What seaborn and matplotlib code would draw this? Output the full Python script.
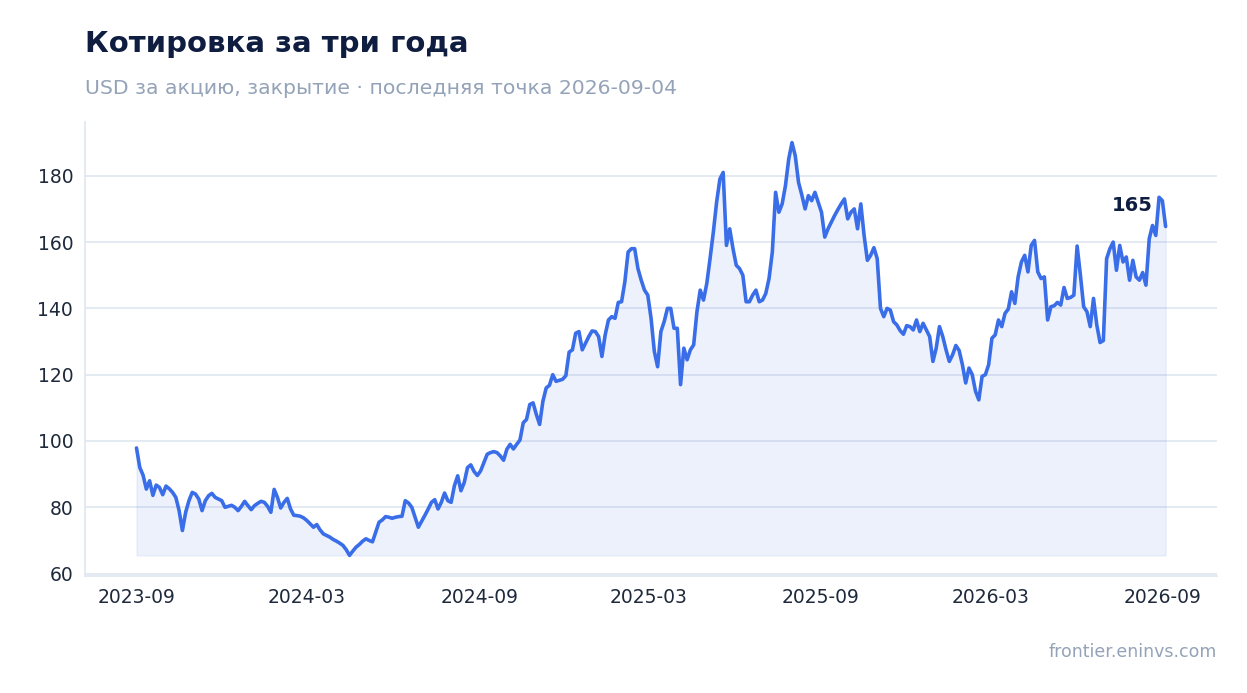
import numpy as np
import pandas as pd
import matplotlib
matplotlib.use("Agg")
import matplotlib.pyplot as plt
import matplotlib.dates as mdates
import seaborn as sns

# closing price, sampled every 3.5 days from 2023-09-01 to 2026-09-04
start_date = "2023-09-01"
step = "84h"
close = [
    97.9, 92.0, 89.7, 85.5, 88.0, 83.6, 86.7, 86.0, 83.8, 86.4,
    85.6, 84.5, 83.0, 79.0, 73.0, 78.5, 82.0, 84.5, 84.0, 82.5,
    79.0, 82.0, 83.5, 84.2, 83.0, 82.5, 82.0, 80.0, 80.3, 80.6,
    80.0, 79.0, 80.3, 81.8, 80.5, 79.3, 80.5, 81.2, 81.8, 81.5,
    80.3, 78.5, 85.4, 83.0, 79.8, 81.5, 82.7, 79.5, 77.6, 77.5,
    77.3, 76.8, 76.0, 75.0, 74.0, 74.8, 73.2, 72.0, 71.5, 71.0,
    70.3, 69.8, 69.2, 68.5, 67.2, 65.5, 66.8, 68.0, 68.8, 69.8,
    70.5, 70.0, 69.6, 72.5, 75.5, 76.2, 77.2, 77.0, 76.7, 77.0,
    77.2, 77.3, 82.0, 81.3, 80.0, 77.0, 74.0, 75.8, 77.6, 79.5,
    81.5, 82.3, 79.5, 81.5, 84.3, 82.0, 81.5, 86.5, 89.5, 85.0,
    87.5, 92.0, 92.8, 90.8, 89.6, 91.0, 93.5, 96.0, 96.5, 96.8,
    96.5, 95.5, 94.2, 97.5, 99.0, 97.6, 99.0, 100.3, 105.5, 106.5,
    111.0, 111.5, 108.0, 105.0, 112.0, 116.0, 116.8, 120.0, 118.0, 118.3,
    118.6, 119.7, 126.8, 127.5, 132.5, 133.0, 127.5, 129.5, 131.5, 133.2,
    133.0, 131.5, 125.5, 132.0, 136.5, 137.5, 137.0, 141.8, 142.0, 148.0,
    157.0, 158.0, 158.0, 152.0, 148.5, 145.5, 144.0, 137.0, 127.0, 122.4,
    133.0, 136.0, 140.0, 140.0, 134.0, 134.0, 117.0, 128.0, 124.5, 127.5,
    129.0, 139.0, 145.5, 142.5, 147.5, 155.0, 163.0, 172.0, 179.0, 181.0,
    159.0, 164.0, 158.0, 153.0, 152.0, 150.0, 142.0, 142.0, 144.0, 145.5,
    142.0, 142.5, 144.5, 149.0, 157.0, 175.0, 169.0, 171.5, 177.0, 185.0,
    190.0, 186.0, 178.0, 174.2, 170.0, 174.0, 172.5, 175.0, 172.0, 169.0,
    161.5, 164.0, 166.0, 168.0, 169.8, 171.5, 173.0, 167.0, 169.0, 170.0,
    164.0, 171.5, 162.0, 154.5, 156.0, 158.3, 155.0, 140.0, 137.5, 140.0,
    139.5, 136.0, 135.0, 133.3, 132.2, 134.8, 134.5, 133.5, 136.5, 133.0,
    135.5, 133.5, 131.5, 124.0, 128.0, 134.5, 131.5, 127.5, 124.0, 126.0,
    128.8, 127.3, 123.0, 117.5, 122.0, 120.0, 115.0, 112.4, 119.5, 120.0,
    123.0, 131.0, 132.0, 136.5, 134.5, 138.5, 139.8, 145.0, 141.5, 149.5,
    154.0, 156.0, 151.0, 159.0, 160.5, 151.0, 149.0, 149.5, 136.5, 140.5,
    140.8, 141.8, 141.0, 146.3, 143.0, 143.3, 144.0, 158.8, 150.0, 140.5,
    139.0, 134.5, 143.0, 135.0, 129.7, 130.3, 155.0, 158.0, 160.0, 151.5,
    159.0, 154.0, 155.5, 148.5, 154.5, 149.5, 148.5, 150.8, 147.0, 161.0,
    165.0, 162.0, 173.5, 172.5, 164.7,
]

dates = pd.date_range(start=start_date, periods=len(close), freq=step)
df = pd.DataFrame({"date": dates, "close": close})

line_color = "#3A6EE8"
navy = "#0F1D40"
muted = "#94A3B8"
grid_color = "#E2E8F0"

sns.set_theme(style="whitegrid")
plt.rcParams["font.family"] = ["DejaVu Sans"]

fig = plt.figure(figsize=(12.47, 6.93), dpi=100)
ax = fig.add_axes([0.0682, 0.1688, 0.9078, 0.6552])

ax.fill_between(df["date"], df["close"], df["close"].min(),
                color=line_color, alpha=0.09, linewidth=1)
sns.lineplot(data=df, x="date", y="close", ax=ax, color=line_color, linewidth=2.6)

last = df.iloc[-1]
ax.annotate(f"{last['close']:.0f}", xy=(last["date"], last["close"]),
            xytext=(-9, 15), textcoords="offset points", ha="right", va="center",
            fontsize=14, fontweight="bold", color=navy)

ax.xaxis.set_major_locator(mdates.MonthLocator(bymonth=[3, 9]))
ax.xaxis.set_major_formatter(mdates.DateFormatter("%Y-%m"))
ax.set_xlabel("")
ax.set_ylabel("")

ax.grid(axis="x", visible=False)
ax.grid(axis="y", color=grid_color, linewidth=1.3)
for side in ["top", "right"]:
    ax.spines[side].set_visible(False)
for side in ["left", "bottom"]:
    ax.spines[side].set_color(grid_color)
    ax.spines[side].set_linewidth(1.3)
ax.tick_params(axis="both", which="major", length=5, width=1.2,
               color="#334155", labelcolor="#1E293B", labelsize=13.5)

fig.text(0.0682, 0.936, "Котировка за три года", fontsize=21, fontweight="bold",
         color=navy, ha="left", va="center")
fig.text(0.0682, 0.873, "USD за акцию, закрытие · последняя точка 2026-09-04",
         fontsize=14.7, color=muted, ha="left", va="center")
fig.text(0.976, 0.059, "frontier.eninvs.com", fontsize=12.5, color=muted,
         ha="right", va="center")

fig.savefig("out.png", dpi=100)
